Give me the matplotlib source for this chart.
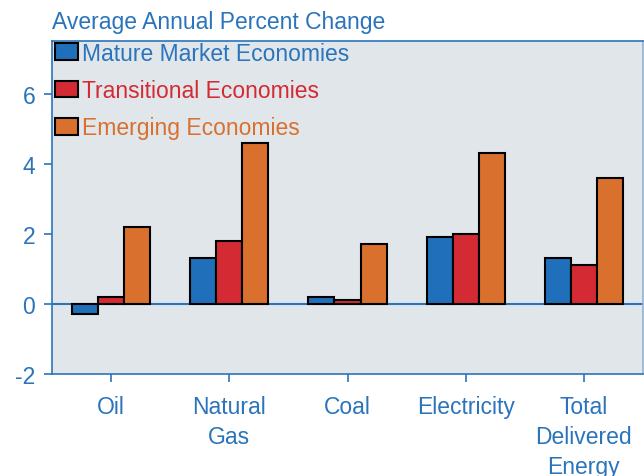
import matplotlib.pyplot as plt
import numpy as np
from matplotlib.patches import Patch

plt.rcParams['font.family'] = ['Liberation Sans', 'DejaVu Sans']

categories = ['Oil', 'Natural\nGas', 'Coal', 'Electricity', 'Total\nDelivered\nEnergy']
series_names = ['Mature Market Economies', 'Transitional Economies', 'Emerging Economies']
mature = [-0.3, 1.3, 0.2, 1.9, 1.3]
transitional = [0.2, 1.8, 0.1, 2.0, 1.1]
emerging = [2.2, 4.6, 1.7, 4.3, 3.6]
y_ticks = [-2, 0, 2, 4, 6]

colors = ['#1f6fba', '#d42a33', '#d9702d']
text_blue = '#2a74bb'
bg = '#e1e6eb'
fs = 16.5

fig = plt.figure(figsize=(6.44, 4.77), dpi=100)
ax = fig.add_axes([52 / 644, 1 - 375 / 477, (643 - 52) / 644, (375 - 42) / 477])
ax.set_facecolor(bg)

x = np.arange(len(categories))
w = 0.22
for i, (vals, c) in enumerate(zip([mature, transitional, emerging], colors)):
    ax.bar(x + (i - 1) * w, vals, w, color=c, edgecolor='black', linewidth=1.5, zorder=3)

ax.axhline(0, color=text_blue, linewidth=1.5, zorder=2)
ax.set_xlim(-0.5, len(categories) - 0.5)
ax.set_ylim(-2, 7.5)
ax.set_yticks(y_ticks)
ax.set_yticklabels([str(t) for t in y_ticks])
ax.set_xticks(x)
ax.set_xticklabels(categories, linespacing=1.4, va='top')

for s in ax.spines.values():
    s.set_color(text_blue)
    s.set_linewidth(1.2)
ax.spines['right'].set_color('#8fb3d6')
ax.tick_params(axis='both', colors=text_blue, labelcolor=text_blue, labelsize=fs,
               length=6, width=1.2)
ax.tick_params(axis='x', pad=9)
ax.tick_params(axis='y', pad=6)

handles = [Patch(facecolor=c, edgecolor='black', linewidth=1.5) for c in colors]
leg = ax.legend(handles, series_names, loc='upper left', frameon=False, fontsize=fs,
                handlelength=1.0, handleheight=0.75, handletextpad=0.15,
                labelspacing=0.62, borderpad=0, borderaxespad=0.15,
                bbox_to_anchor=(0.0, 1.008))
for t, c in zip(leg.get_texts(), [text_blue, colors[1], colors[2]]):
    t.set_color(c)

fig.text(52 / 644, 1 - 22 / 477, 'Average Annual Percent Change', color=text_blue,
         fontsize=fs, ha='left', va='center')

fig.savefig('out.png', dpi=100)
